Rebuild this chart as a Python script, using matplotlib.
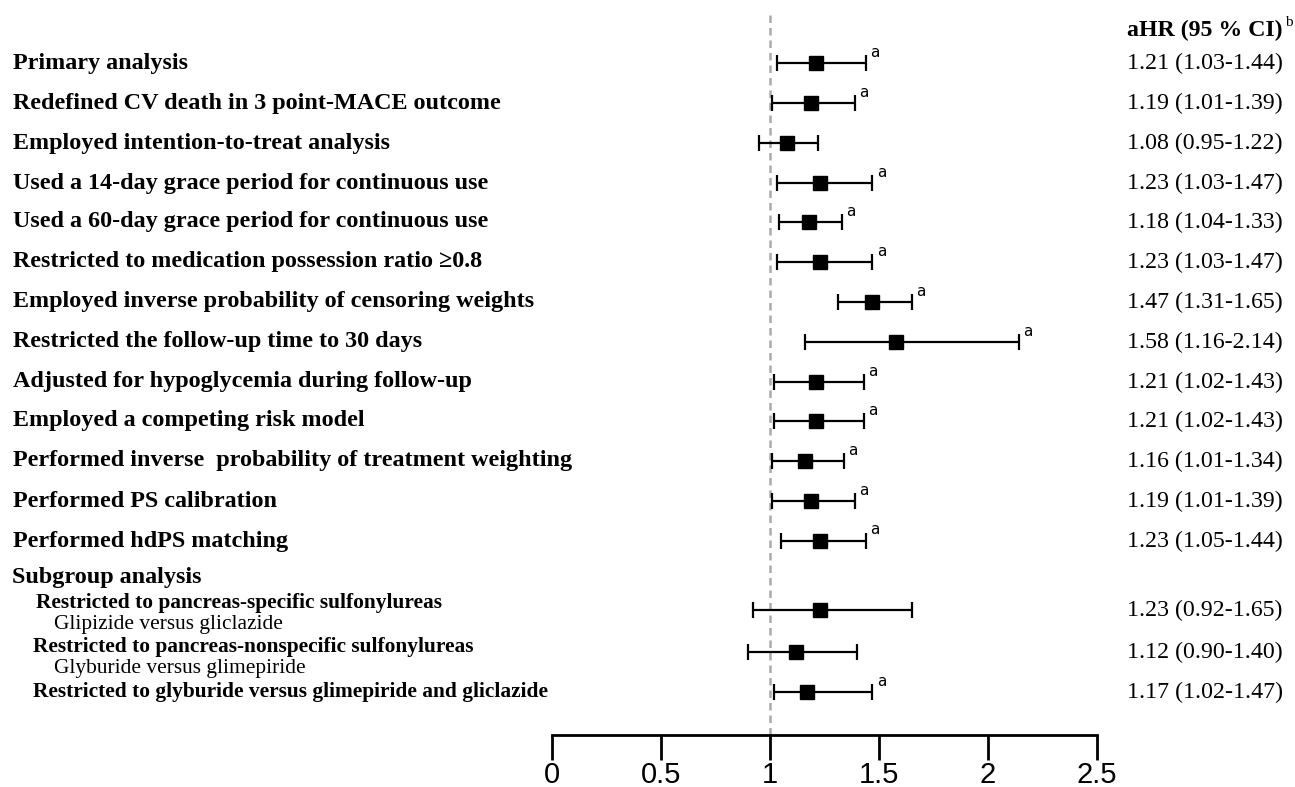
import matplotlib.pyplot as plt

labels = [
    "Primary analysis",
    "Redefined CV death in 3 point-MACE outcome",
    "Employed intention-to-treat analysis",
    "Used a 14-day grace period for continuous use",
    "Used a 60-day grace period for continuous use",
    "Restricted to medication possession ratio \u22650.8",
    "Employed inverse probability of censoring weights",
    "Restricted the follow-up time to 30 days",
    "Adjusted for hypoglycemia during follow-up",
    "Employed a competing risk model",
    "Performed inverse  probability of treatment weighting",
    "Performed PS calibration",
    "Performed hdPS matching",
]
sub_labels = [
    ("Restricted to pancreas-specific sulfonylureas", "Glipizide versus gliclazide"),
    ("Restricted to pancreas-nonspecific sulfonylureas", "Glyburide versus glimepiride"),
    ("Restricted to glyburide versus glimepiride and gliclazide", None),
]
hr = [1.21, 1.19, 1.08, 1.23, 1.18, 1.23, 1.47, 1.58, 1.21, 1.21, 1.16, 1.19, 1.23,
      1.23, 1.12, 1.17]
lo = [1.03, 1.01, 0.95, 1.03, 1.04, 1.03, 1.31, 1.16, 1.02, 1.02, 1.01, 1.01, 1.05,
      0.92, 0.90, 1.02]
hi = [1.44, 1.39, 1.22, 1.47, 1.33, 1.47, 1.65, 2.14, 1.43, 1.43, 1.34, 1.39, 1.44,
      1.65, 1.40, 1.47]
sig = [True, True, False, True, True, True, True, True, True, True, True, True, True,
       False, False, True]
xticks = [0, 0.5, 1, 1.5, 2, 2.5]

W, H = 1295, 787
fig = plt.figure(figsize=(W / 100, H / 100), dpi=100)
# axes spans pixel x 552..1097, y 0..735 ; y in pixel rows (inverted)
ax = fig.add_axes([552 / W, 1 - 735 / H, (1097 - 552) / W, 735 / H])
ax.set_xlim(0, 2.5)
ax.set_ylim(735, 0)

# row positions in pixel rows
rows = [63, 103, 143, 183, 222, 262, 302, 342, 382, 421, 461, 501, 541, 610, 652, 692]

ax.axvline(1, ymin=0, ymax=1 - 10 / 735, color="#aaaaaa", ls=(0, (3, 2)), lw=1.8, zorder=1)

for i, y in enumerate(rows):
    err = [[hr[i] - lo[i]], [hi[i] - hr[i]]]
    ax.errorbar(hr[i], y, xerr=err, fmt="s", color="black", ms=10.5, capsize=5.5,
                capthick=1.6, elinewidth=1.6, zorder=3)
    if sig[i]:
        ax.text(hi[i] + 0.02, y - 11, "a", fontsize=11, family="DejaVu Sans",
                ha="left", va="center")

serif = "Liberation Serif"
def fy(py):
    return 1 - py / H

for lab, y in zip(labels, rows):
    fig.text(13 / W, fy(y), lab, fontsize=17.4, fontweight="bold", family=serif, va="center")

fig.text(12 / W, fy(578), "Subgroup analysis", fontsize=17.4, fontweight="bold",
         family=serif, va="center")
sub_pos = [(603, 625, 36), (647, 668, 33), (692, None, 33)]
for (main, second), (y1, y2, x0) in zip(sub_labels, sub_pos):
    fig.text(x0 / W, fy(y1), main, fontsize=15.4, fontweight="bold", family=serif, va="center")
    if second:
        fig.text(54 / W, fy(y2), second, fontsize=15.4, family=serif, va="center")

fig.text(1127 / W, fy(30), "aHR (95 % CI)", fontsize=17.2, fontweight="bold",
         family=serif, va="center")
fig.text(1285 / W, fy(23), "b", fontsize=11, family=serif, va="center")
for i, y in enumerate(rows):
    txt = f"{hr[i]:.2f} ({lo[i]:.2f}-{hi[i]:.2f})"
    fig.text(1127 / W, fy(y), txt, fontsize=17.2, family=serif, va="center")

for s in ["top", "left", "right"]:
    ax.spines[s].set_visible(False)
ax.spines["bottom"].set_linewidth(2)
ax.set_yticks([])
ax.set_xticks(xticks)
ax.set_xticklabels([f"{t:g}" for t in xticks], family="Liberation Sans", fontsize=21)
ax.tick_params(axis="x", direction="out", length=18, width=2, pad=1)
ax.patch.set_visible(False)

fig.savefig("out.png", dpi=100)
